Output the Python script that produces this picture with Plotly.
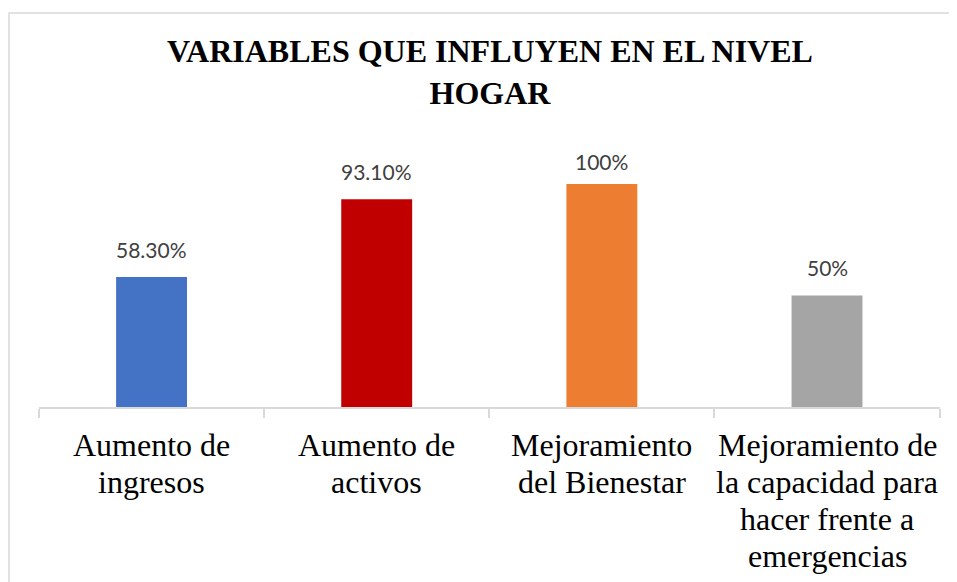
import plotly.graph_objects as go

categories = [
    "Aumento de<br>ingresos",
    "Aumento de<br>activos",
    "Mejoramiento<br>del Bienestar",
    "Mejoramiento de<br>la capacidad para<br>hacer frente a<br>emergencias",
]
values = [0.583, 0.931, 1.0, 0.5]
value_labels = ["58.30%", "93.10%", "100%", "50%"]
bar_colors = ["#4472C4", "#C00000", "#ED7D31", "#A5A5A5"]

# page body has an 8px margin, so figure coords = screen coords - 8
W, H = 957, 582
OFF = 8
PL, PR, PT, PB = 39 - OFF, 940 - OFF, 117 - OFF, 407 - OFF
YMAX = 1.3
LABEL_GAP = [17, 17, 12, 17]   # excel pulls the 100% label down into the plot area
LINE_H = 37

fig = go.Figure(go.Bar(
    x=categories, y=values,
    marker=dict(color=bar_colors, line=dict(width=0)),
    width=0.315,
    hoverinfo="x+y",
))

# value labels above bars
for cat, v, lab, gap in zip(categories, values, value_labels, LABEL_GAP):
    fig.add_annotation(x=cat, y=v, xref="x", yref="y", text=lab,
                       showarrow=False, yanchor="bottom", yshift=gap - 4,
                       font=dict(family="Lato", size=21, color="#404040"))

# category labels, one annotation per line to get Word-like line spacing
for cat in categories:
    for i, line in enumerate(cat.split("<br>")):
        fig.add_annotation(x=cat, y=0, xref="x", yref="y", text=line,
                           showarrow=False, yanchor="middle",
                           yshift=-(38 + i * LINE_H),
                           font=dict(family="Liberation Serif", size=32, color="black"))


def px_x(px):
    return (px - OFF - PL) / (PR - PL)


def px_y(py):
    return (PB - (py - OFF)) / (PB - PT)


# light chart border (excel chart area)
fig.add_shape(type="rect", xref="paper", yref="paper",
              x0=px_x(9), x1=px_x(1010), y0=px_y(700), y1=px_y(13),
              line=dict(color="#d9d9d9", width=1.5), fillcolor="rgba(0,0,0,0)")

fig.update_layout(
    width=W, height=H,
    paper_bgcolor="white", plot_bgcolor="white",
    margin=dict(l=PL, r=W - PR, t=PT, b=H - PB, autoexpand=False),
    title=dict(
        text="<b>VARIABLES QUE INFLUYEN EN EL NIVEL<br>HOGAR</b>",
        x=(490 - OFF) / W, xanchor="center", y=1 - 54 / H, yanchor="top",
        font=dict(family="Liberation Serif", size=32, color="black"),
    ),
    showlegend=False,
    xaxis=dict(
        showline=True, linecolor="#d9d9d9", linewidth=1.5,
        ticks="outside", tickson="boundaries", ticklen=9, tickcolor="#d9d9d9",
        tickwidth=1.5, showticklabels=False, showgrid=False,
    ),
    yaxis=dict(range=[0, YMAX], visible=False, showgrid=False, zeroline=False),
)

fig.write_html("out.html")
